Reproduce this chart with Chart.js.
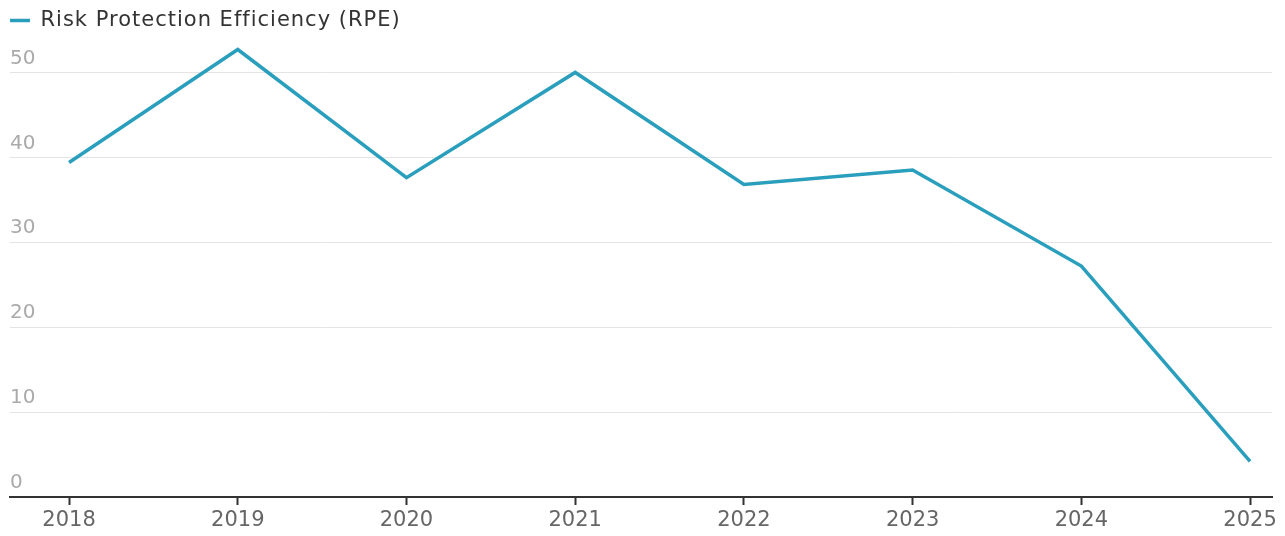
<!DOCTYPE html>
<html>
<head>
<meta charset="utf-8">
<script src="https://cdn.jsdelivr.net/npm/chart.js@4"></script>
<style>
  html, body { margin: 0; padding: 0; background: #fff; }
  #wrap { width: 1285px; height: 536px; }
</style>
</head>
<body>
<div id="wrap"><canvas id="RPEChart" width="1285" height="536"></canvas></div>
<script>
// yearly values
const years = [2018, 2019, 2020, 2021, 2022, 2023, 2024, 2025];
const rpeValues = [39.4, 52.7, 37.6, 50.0, 36.8, 38.5, 27.2, 4.2];
const yTickValues = [0, 10, 20, 30, 40, 50];
const seriesLabel = "Risk Protection Efficiency (RPE)";

function buildPoints()
{
    let pts = [];
    for (var i = 0; i < years.length; i++)
    {
        pts.push({x: years[i], y: rpeValues[i]});
    }
    return pts;
}

//Legend text is spaced out a little wider than the axis labels
const legendSpacing = {
    id: 'legendSpacing',
    afterInit: function(chart) {
        let lg = chart.legend;
        let fit = lg.fit.bind(lg);
        let draw = lg.draw.bind(lg);
        lg.fit = function() {
            chart.ctx.letterSpacing = '1px';
            fit();
            chart.ctx.letterSpacing = '0px';
        };
        lg.draw = function() {
            chart.ctx.letterSpacing = '1px';
            draw();
            chart.ctx.letterSpacing = '0px';
        };
    }
};

Chart.defaults.font.family = "'DejaVu Sans', sans-serif";

var ctx = document.getElementById("RPEChart").getContext('2d');
var myChart = new Chart(ctx, {
    type: 'line',
    data: {
        datasets: [{
            label: seriesLabel,
            data: buildPoints(),
            borderColor: "#2a9fbd",
            backgroundColor: "#2a9fbd",
            borderWidth: 3.5,
            pointRadius: 0,
            tension: 0
        }]
    },
    plugins: [legendSpacing],
    options: {
        responsive: false,
        animation: false,
        layout: { padding: { left: 10, right: 13, top: 10, bottom: 0 } },
        plugins: {
            tooltip: { enabled: false },
            legend: {
                align: 'start',
                labels: {
                    usePointStyle: true,
                    pointStyle: 'line',
                    pointStyleWidth: 20,
                    boxHeight: 3,
                    color: "#333",
                    font: { size: 21 },
                    padding: 0
                }
            }
        },
        scales: {
            x: {
                type: 'linear',
                min: 2017.65,
                max: 2025.13,
                afterBuildTicks: function(axis) {
                    axis.ticks = years.map(function(v) { return {value: v}; });
                },
                grid: {
                    display: true,
                    drawOnChartArea: false,
                    drawTicks: true,
                    tickLength: 8,
                    tickColor: "#333",
                    tickWidth: 2
                },
                border: { display: true, color: "#333", width: 2 },
                ticks: {
                    color: "#666",
                    font: { size: 21, lineHeight: 1.0 },
                    padding: 5,
                    maxRotation: 0,
                    callback: function(v) { return String(v); }
                }
            },
            y: {
                min: 0,
                max: 53.7,
                afterBuildTicks: function(axis) {
                    axis.ticks = yTickValues.map(function(v) { return {value: v}; });
                },
                grid: { color: "#e4e4e4", lineWidth: 1, drawTicks: false },
                border: { display: false },
                ticks: {
                    mirror: true,
                    padding: 0,
                    labelOffset: -14,
                    color: "#aaa",
                    font: { size: 20 }
                }
            }
        }
    }
});
</script>
</body>
</html>
